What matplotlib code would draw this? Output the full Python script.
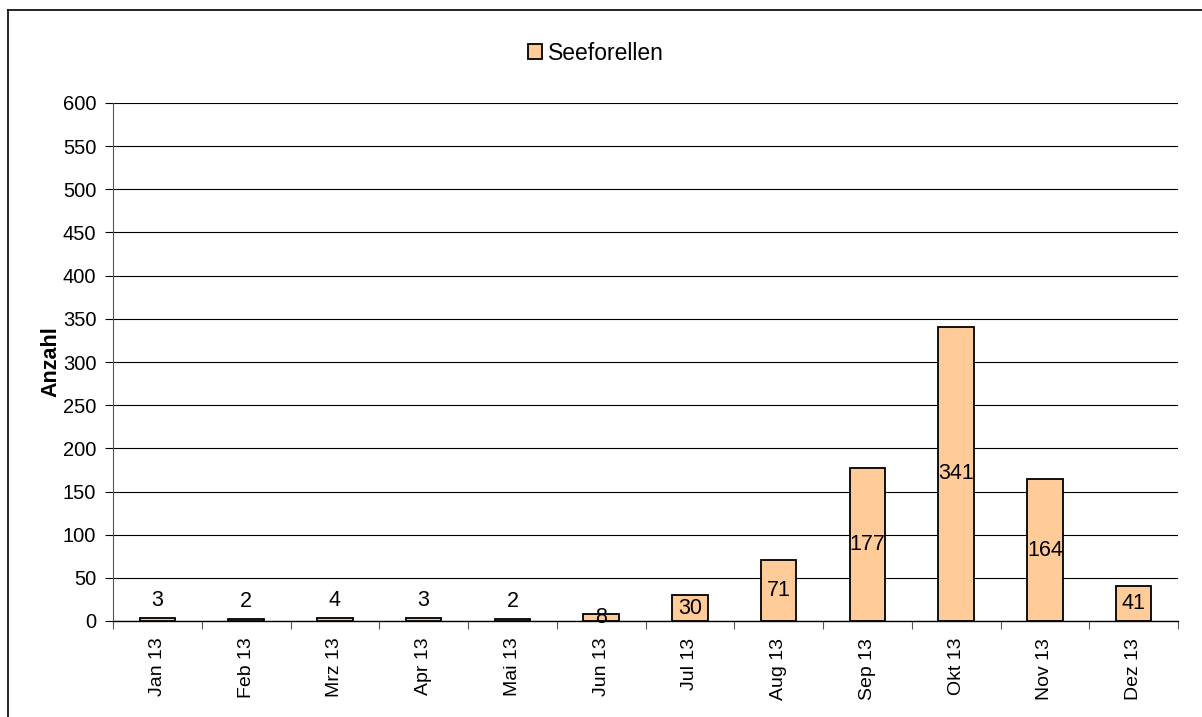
import matplotlib.pyplot as plt
import numpy as np

plt.rcParams['font.family'] = ['Liberation Sans', 'DejaVu Sans']

# Daten
months = ['Jan 13', 'Feb 13', 'Mrz 13', 'Apr 13', 'Mai 13', 'Jun 13',
          'Jul 13', 'Aug 13', 'Sep 13', 'Okt 13', 'Nov 13', 'Dez 13']
seeforellen = [3, 2, 4, 3, 2, 8, 30, 71, 177, 341, 164, 41]
y_ticks = list(range(0, 601, 50))

fig = plt.figure(figsize=(12.02, 7.17), dpi=100)
ax = fig.add_axes([113 / 1202, 1 - 621 / 717, (1178 - 113) / 1202, (621 - 103) / 717])

xpos = np.arange(len(months))
ax.bar(xpos, seeforellen, width=0.4, color='#FFCC99', edgecolor='black',
       linewidth=1.3, label='Seeforellen', zorder=3)

# Beschriftungen der Balken
for xi, v in zip(xpos, seeforellen):
    y = v / 2 if v >= 5 else v / 2 + 22
    ax.text(xi, y, str(v), ha='center', va='center', fontsize=15.5, zorder=4)

ax.set_xlim(-0.5, len(months) - 0.5)
ax.set_ylim(0, 600)
ax.set_yticks(y_ticks)
ax.tick_params(axis='y', labelsize=14.5, length=6, width=0.8, pad=6)
ax.set_xticks(xpos)
ax.set_xticklabels(months, rotation=90, fontsize=14)
ax.tick_params(axis='x', length=0, pad=12)
# Teilstriche zwischen den Kategorien
ax.set_xticks(np.arange(-0.5, len(months), 1), minor=True)
ax.tick_params(axis='x', which='minor', length=6, width=0.8, color='#555555')

ax.grid(axis='y', color='black', linewidth=0.8, zorder=0)
for side in ['top', 'right']:
    ax.spines[side].set_visible(False)
ax.spines['left'].set_color('#555555')
ax.spines['bottom'].set_linewidth(1.0)

ax.set_ylabel('Anzahl', fontsize=15.5, fontweight='bold', labelpad=1)

fig.legend(loc='center', bbox_to_anchor=(596 / 1202, 1 - 53 / 717), frameon=False,
           fontsize=16.5, handlelength=0.6, handleheight=0.6, handletextpad=0.3)

# Rahmen
fig.add_artist(plt.Line2D([8 / 1202, 8 / 1202], [0, 1 - 10 / 717], color='black', linewidth=1.2))
fig.add_artist(plt.Line2D([8 / 1202, 1], [1 - 10 / 717, 1 - 10 / 717], color='black', linewidth=1.2))

fig.savefig('out.png', dpi=100)
